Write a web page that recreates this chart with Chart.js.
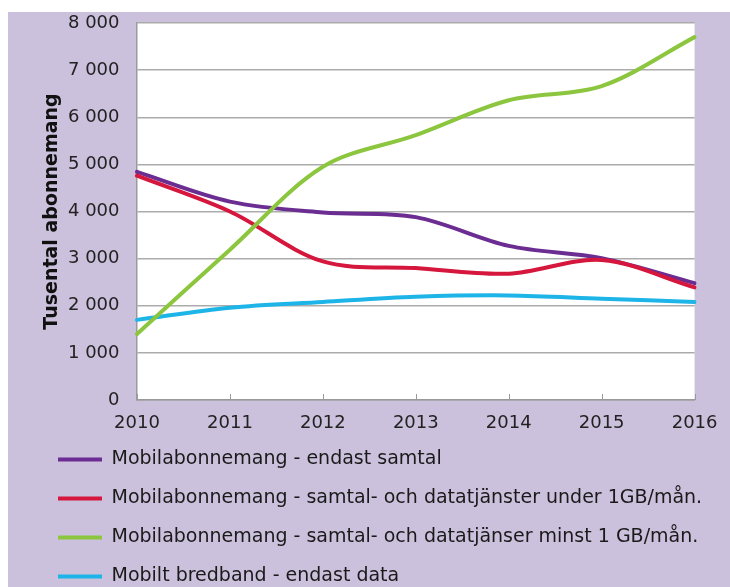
<!DOCTYPE html>
<html>
<head>
<meta charset="utf-8">
<script src="https://cdn.jsdelivr.net/npm/chart.js@4/dist/chart.umd.min.js"></script>
<style>
  html, body { margin: 0; padding: 0; background: #fff; }
  #wrap { position: absolute; left: 8px; top: 12px; width: 722px; height: 575px; background: #cbc1dc; overflow: hidden; }
  canvas { display: block; }
</style>
</head>
<body>
<div id="wrap"><canvas id="chart" width="722" height="575"></canvas></div>
<script>
// år på x-axeln
const years = ['2010', '2011', '2012', '2013', '2014', '2015', '2016'];
// tusental abonnemang
const endastSamtal = [4840, 4210, 3980, 3880, 3270, 3010, 2480];
const under1GB = [4760, 4000, 2940, 2800, 2680, 2970, 2390];
const minst1GB = [1400, 3190, 4950, 5620, 6360, 6660, 7700];
const bredband = [1700, 1960, 2080, 2190, 2220, 2150, 2080];
const yMax = 8000;
const yStep = 1000;

// vit bakgrund i ritytan + små streck inåt vid varje år
const plotBg = {
    id: 'plotBg',
    beforeDraw(chart) {
        const a = chart.chartArea;
        const c = chart.ctx;
        c.save();
        c.fillStyle = '#ffffff';
        c.fillRect(a.left, a.top, a.right - a.left, a.bottom - a.top);
        c.restore();
    },
    afterDatasetsDraw(chart) {
        const a = chart.chartArea;
        const xs = chart.scales.x;
        const c = chart.ctx;
        c.save();
        c.strokeStyle = '#9a9a9a';
        c.lineWidth = 1;
        years.forEach((y, i) => {
            const px = Math.round(xs.getPixelForValue(i)) + 0.5;
            c.beginPath();
            c.moveTo(px, a.bottom);
            c.lineTo(px, a.bottom - 6);
            c.stroke();
        });
        c.restore();
    }
};

const font = 'DejaVu Sans';
const lw = 4;
const ctx = document.getElementById('chart').getContext('2d');
const myChart = new Chart(ctx, {
    type: 'line',
    data: {
        labels: years,
        datasets: [{
            label: 'Mobilabonnemang - endast samtal',
            data: endastSamtal,
            borderColor: '#6b2d91',
            backgroundColor: '#6b2d91',
            order: 2
        }, {
            label: 'Mobilabonnemang - samtal- och datatjänster under 1GB/mån.',
            data: under1GB,
            borderColor: '#d6173d',
            backgroundColor: '#d6173d',
            order: 1
        }, {
            label: 'Mobilabonnemang - samtal- och datatjänser minst 1 GB/mån.',
            data: minst1GB,
            borderColor: '#8cc63f',
            backgroundColor: '#8cc63f',
            order: 0
        }, {
            label: 'Mobilt bredband - endast data',
            data: bredband,
            borderColor: '#1db4e8',
            backgroundColor: '#1db4e8',
            order: 3
        }]
    },
    options: {
        responsive: false,
        animation: false,
        layout: { padding: { left: 30, right: 24, top: 11, bottom: -9 } },
        elements: {
            line: { borderWidth: lw, tension: 0.33, fill: false, borderCapStyle: 'round' },
            point: { radius: 0, hoverRadius: 0, borderWidth: lw }
        },
        plugins: {
            tooltip: { enabled: false },
            legend: {
                position: 'bottom',
                align: 'start',
                labels: {
                    usePointStyle: true,
                    pointStyle: 'line',
                    pointStyleWidth: 44,
                    padding: 20,
                    color: '#1a1a1a',
                    font: { family: font, size: 19 },
                    sort: (a, b) => a.datasetIndex - b.datasetIndex
                }
            }
        },
        scales: {
            x: {
                offset: false,
                grid: { drawOnChartArea: false, drawTicks: false },
                border: { color: '#9a9a9a', width: 1.5 },
                ticks: { padding: 12.5, color: '#222', font: { family: font, size: 18 }, maxRotation: 0 },
                afterFit(scale) { scale.height = 30; }
            },
            y: {
                min: 0,
                max: yMax,
                grid: { color: '#ababab', lineWidth: 1.5, drawTicks: true, tickLength: 17.5, tickColor: 'transparent' },
                border: { color: '#9a9a9a', width: 1.5 },
                ticks: {
                    stepSize: yStep,
                    padding: 0,
                    color: '#222',
                    font: { family: font, size: 18 },
                    callback: (v) => String(v).replace(/\B(?=(\d{3})+(?!\d))/g, ' ')
                },
                title: {
                    display: true,
                    text: 'Tusental abonnemang',
                    color: '#111',
                    font: { family: font, size: 19, weight: 'bold' },
                    padding: { top: 2.5, bottom: 0 }
                },
                afterFit(scale) { scale.width = 99; }
            }
        }
    },
    plugins: [plotBg]
});
</script>
</body>
</html>
